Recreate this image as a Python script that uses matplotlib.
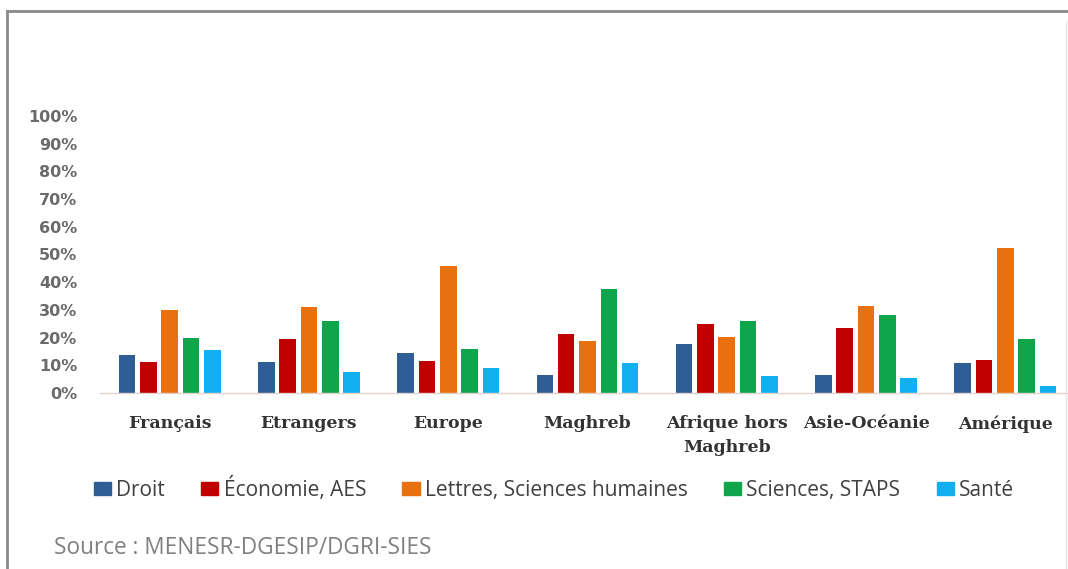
import matplotlib
matplotlib.use("Agg")
import matplotlib.pyplot as plt
import numpy as np
from matplotlib.patches import Rectangle
from matplotlib.lines import Line2D

categories = ["Français", "Etrangers", "Europe", "Maghreb", "Afrique hors\nMaghreb", "Asie-Océanie", "Amérique"]
series_names = ["Droit", "Économie, AES", "Lettres, Sciences humaines", "Sciences, STAPS", "Santé"]
droit = [13.7, 11.3, 14.5, 6.5, 17.6, 6.5, 10.9]
economie = [11.3, 19.5, 11.7, 21.3, 24.9, 23.4, 11.9]
lettres = [30.0, 31.0, 46.0, 18.9, 20.1, 31.4, 52.5]
sciences = [20.0, 26.0, 15.8, 37.4, 26.0, 28.2, 19.4]
sante = [15.5, 7.5, 8.9, 10.7, 6.1, 5.3, 2.6]
yticks = [0, 10, 20, 30, 40, 50, 60, 70, 80, 90, 100]
source_text = "Source : MENESR-DGESIP/DGRI-SIES"

colors = ["#2f5d96", "#c00000", "#e8700f", "#0fa64b", "#12aff0"]
series = [droit, economie, lettres, sciences, sante]

W, H = 1068, 569
fig = plt.figure(figsize=(W / 100, H / 100), dpi=100)
fig.patch.set_facecolor("white")

left = 100 / W
right = 1075 / W
bottom = 1 - 393 / H
top = 1 - 116 / H
ax = fig.add_axes([left, bottom, right - left, top - bottom])

x = np.arange(len(categories))
pitch = 0.153
bw = 0.119
for i, (vals, c, name) in enumerate(zip(series, colors, series_names)):
    ax.bar(x + (i - 2) * pitch, vals, width=bw, color=c, label=name, zorder=2)

ax.set_xlim(-0.5, len(categories) - 0.5)
ax.set_ylim(0, 100)
ax.set_yticks(yticks)
ax.set_yticklabels([f"{v}%" for v in yticks], fontsize=11.5, fontweight="bold",
                   color="#6a6a6a", family="DejaVu Sans")
ax.set_xticks(x)
ax.set_xticklabels(categories, fontsize=12.5, fontweight="bold", color="#333333",
                   family="DejaVu Serif", linespacing=1.55)
ax.tick_params(axis="both", length=0)
ax.tick_params(axis="x", pad=16)
ax.tick_params(axis="y", pad=16.5)
for s in ["top", "right", "left"]:
    ax.spines[s].set_visible(False)
ax.spines["bottom"].set_color("#e3d3cf")
ax.spines["bottom"].set_linewidth(1.0)

handles = [Rectangle((0, 0), 1, 1, color=c) for c in colors]
leg = fig.legend(handles, series_names, loc="center", bbox_to_anchor=(554 / W, 1 - 489 / H),
                 ncol=5, frameon=False, prop={"family": "Open Sans", "size": 15},
                 handlelength=0.82, handleheight=0.55, handletextpad=0.25, columnspacing=1.75,
                 borderpad=0, borderaxespad=0)
for t in leg.get_texts():
    t.set_color("#404040")

fig.text(54 / W, 1 - 548 / H, source_text, fontsize=16.3, family="Open Sans", color="#808080",
         ha="left", va="center")

fig.add_artist(Line2D([7 / W, 7 / W], [0, 1 - 11 / H], color="#8a8a8a", lw=2, transform=fig.transFigure))
fig.add_artist(Line2D([7 / W, 1], [1 - 11 / H, 1 - 11 / H], color="#8a8a8a", lw=2, transform=fig.transFigure))
fig.add_artist(Line2D([1066 / W, 1066 / W], [0, 1 - 22 / H], color="#e5e5e5", lw=1, transform=fig.transFigure))

fig.savefig("out.png", dpi=100, facecolor="white")
